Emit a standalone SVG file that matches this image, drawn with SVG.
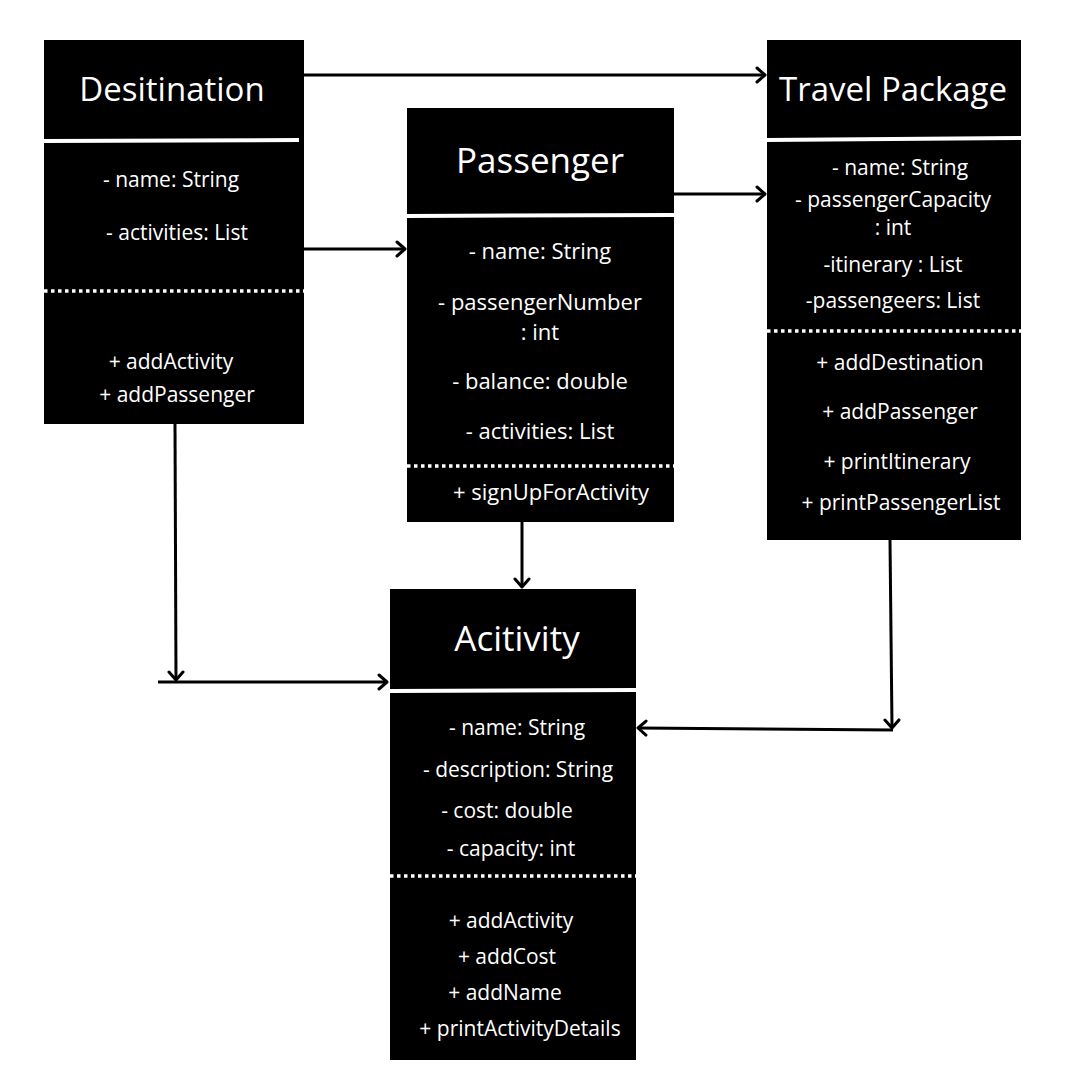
<svg xmlns="http://www.w3.org/2000/svg" width="1080" height="1080" viewBox="0 0 1080 1080">
  <defs>
    <style>
      .box { fill: #000; }
      .sep { stroke: #fff; stroke-width: 4; }
      .dots { stroke: #fff; stroke-width: 3.5; stroke-dasharray: 3.5 3.5; }
      .title { font-family: "Open Sans", "Noto Sans", sans-serif; font-size: 33px; fill: #fff; text-anchor: middle; }
      .attr { font-family: "Open Sans", "Noto Sans", sans-serif; font-size: 21px; fill: #fff; text-anchor: middle; }
      .big { font-size: 22px; }
      .bigtitle { font-size: 35px; }
      .conn { stroke: #000; stroke-width: 3; fill: none; }
    </style>
    <marker id="arrow" markerUnits="userSpaceOnUse" viewBox="0 0 12 18" markerWidth="12" markerHeight="18" refX="10" refY="9" orient="auto">
      <path d="M2,2 L10,9 L2,16" fill="none" stroke="#000" stroke-width="3" stroke-linecap="round" stroke-linejoin="round"/>
    </marker>
  </defs>
  <rect width="1080" height="1080" fill="#fff"/>

  <g id="connectors">
    <line class="conn" x1="304" y1="75" x2="765" y2="75" marker-end="url(#arrow)"/>
    <line class="conn" x1="304" y1="249" x2="405" y2="249" marker-end="url(#arrow)"/>
    <line class="conn" x1="674" y1="194" x2="765" y2="194" marker-end="url(#arrow)"/>
    <line class="conn" x1="175" y1="424" x2="176" y2="680" marker-end="url(#arrow)"/>
    <line class="conn" x1="158" y1="682" x2="387" y2="682" marker-end="url(#arrow)"/>
    <line class="conn" x1="522" y1="522" x2="522" y2="587" marker-end="url(#arrow)"/>
    <line class="conn" x1="890" y1="540" x2="892" y2="728" marker-end="url(#arrow)"/>
    <line class="conn" x1="893" y1="730" x2="638" y2="728" marker-end="url(#arrow)"/>
  </g>

  <g id="destination">
    <rect class="box" x="44" y="40" width="260" height="384"/>
    <line class="sep" x1="44" y1="141" x2="299" y2="140"/>
    <line class="dots" x1="44" y1="291" x2="304" y2="291"/>
    <text class="title" x="172" y="101">Desitination</text>
    <text class="attr" x="171" y="187">- name: String</text>
    <text class="attr" x="177" y="240">- activities: List</text>
    <text class="attr" x="171" y="369">+ addActivity</text>
    <text class="attr" x="177" y="402">+ addPassenger</text>
  </g>

  <g id="passenger">
    <rect class="box" x="407" y="108" width="267" height="414"/>
    <line class="sep" x1="407" y1="216" x2="674" y2="215"/>
    <line class="dots" x1="407" y1="466" x2="674" y2="466"/>
    <text class="title bigtitle" x="540" y="173">Passenger</text>
    <text class="attr big" x="540" y="259">- name: String</text>
    <text class="attr big" x="540" y="310">- passengerNumber</text>
    <text class="attr big" x="540" y="340">: int</text>
    <text class="attr big" x="540" y="389">- balance: double</text>
    <text class="attr big" x="540" y="439">- activities: List</text>
    <text class="attr big" x="551" y="500">+ signUpForActivity</text>
  </g>

  <g id="travel-package">
    <rect class="box" x="767" y="40" width="254" height="500"/>
    <line class="sep" x1="767" y1="140" x2="1021" y2="138"/>
    <line class="dots" x1="767" y1="331" x2="1021" y2="331"/>
    <text class="title" x="893" y="101">Travel Package</text>
    <text class="attr" x="900" y="175">- name: String</text>
    <text class="attr" x="893" y="207">- passengerCapacity</text>
    <text class="attr" x="893" y="235">: int</text>
    <text class="attr" x="893" y="272">-itinerary : List</text>
    <text class="attr" x="893" y="308">-passengeers: List</text>
    <text class="attr" x="900" y="370">+ addDestination</text>
    <text class="attr" x="900" y="419">+ addPassenger</text>
    <text class="attr" x="897" y="469">+ printItinerary</text>
    <text class="attr" x="901" y="510">+ printPassengerList</text>
  </g>

  <g id="activity">
    <rect class="box" x="390" y="589" width="246" height="471"/>
    <line class="sep" x1="390" y1="691" x2="636" y2="690"/>
    <line class="dots" x1="390" y1="876" x2="636" y2="876"/>
    <text class="title bigtitle" x="517" y="651">Acitivity</text>
    <text class="attr" x="517" y="735">- name: String</text>
    <text class="attr" x="518" y="777">- description: String</text>
    <text class="attr" x="507" y="818">- cost: double</text>
    <text class="attr" x="511" y="856">- capacity: int</text>
    <text class="attr" x="511" y="928">+ addActivity</text>
    <text class="attr" x="507" y="964">+ addCost</text>
    <text class="attr" x="505" y="1000">+ addName</text>
    <text class="attr" x="520" y="1036">+ printActivityDetails</text>
  </g>
</svg>
